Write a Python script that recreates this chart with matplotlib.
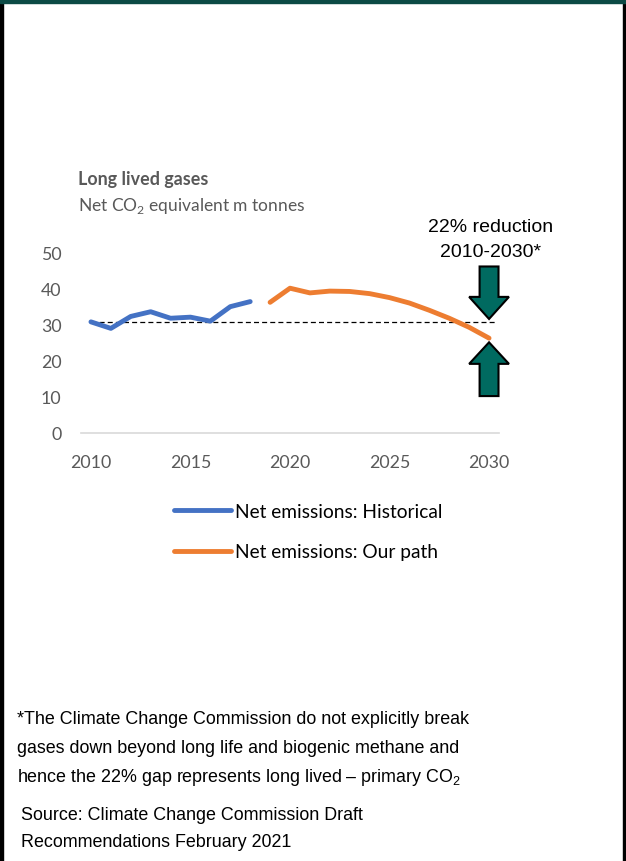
import matplotlib
matplotlib.use("Agg")
import matplotlib.pyplot as plt
from matplotlib.patches import Rectangle, FancyArrow

plt.rcParams['mathtext.fontset'] = 'custom'
plt.rcParams['mathtext.rm'] = 'Lato'
plt.rcParams['mathtext.sf'] = 'Liberation Sans'

# ---- data ----
hist_years = [2010, 2011, 2012, 2013, 2014, 2015, 2016, 2017, 2018]
hist_values = [30.7, 28.9, 32.2, 33.5, 31.7, 32.0, 30.9, 34.9, 36.3]
path_years = [2019, 2020, 2021, 2022, 2023, 2024, 2025, 2026, 2027, 2028, 2029, 2030]
path_values = [36.1, 40.0, 38.7, 39.2, 39.1, 38.5, 37.4, 35.9, 33.9, 31.7, 29.2, 26.2]
x_ticks = [2010, 2015, 2020, 2025, 2030]
y_ticks = [0, 10, 20, 30, 40, 50]
series_labels = ["Net emissions: Historical", "Net emissions: Our path"]

W, H = 626, 862
fig = plt.figure(figsize=(W / 100, H / 100), dpi=100)

def fx(x):
    return x / W

def fy(y):
    return 1 - y / H

GRAY = "#595959"
BLUE = "#4472C4"
ORANGE = "#ED7D31"
TEAL = "#006A60"

# frame
fig.patches.append(Rectangle((0, 0), fx(3), 1, transform=fig.transFigure, color="black", zorder=10))
fig.patches.append(Rectangle((fx(623), 0), fx(3), 1, transform=fig.transFigure, color="black", zorder=10))
fig.patches.append(Rectangle((0, fy(4)), 1, 4 / H, transform=fig.transFigure, color="#0B4A45", zorder=10))

ax_left, ax_right, ax_top, ax_bottom = 81, 499, 253, 434
ax = fig.add_axes([fx(ax_left), fy(ax_bottom), fx(ax_right - ax_left), (ax_bottom - ax_top) / H])
ax.set_xlim(2009.5, 2030.5)
ax.set_ylim(0, 50)

ax.plot(hist_years, hist_values, color=BLUE, lw=3.5, solid_capstyle="round", solid_joinstyle="round",
        label=series_labels[0], zorder=3)
ax.plot(path_years, path_values, color=ORANGE, lw=3.5, solid_capstyle="round", solid_joinstyle="round",
        label=series_labels[1], zorder=3)
ax.hlines(hist_values[0], hist_years[0], 2030.4, colors="black", linestyles=(0, (4, 2.5)), lw=0.9, zorder=2)

for s in ["top", "right", "left"]:
    ax.spines[s].set_visible(False)
ax.spines["bottom"].set_color("#D9D9D9")
ax.spines["bottom"].set_linewidth(1.2)
ax.set_xticks(x_ticks)
ax.set_yticks(y_ticks)
ax.tick_params(axis="both", length=0, labelsize=12.8, labelcolor=GRAY)
ax.tick_params(axis="x", pad=15)
ax.tick_params(axis="y", pad=14)
for lab in ax.get_xticklabels() + ax.get_yticklabels():
    lab.set_fontfamily("Lato")

# arrows
ax.add_patch(FancyArrow(2030, 46.0, 0, -(46.0 - 31.5), width=0.95, head_width=2.0, head_length=6.1,
                        length_includes_head=True, facecolor=TEAL, edgecolor="black", lw=1.5, clip_on=False, zorder=4))
ax.add_patch(FancyArrow(2030, 10.2, 0, 25.05 - 10.2, width=0.95, head_width=2.0, head_length=5.95,
                        length_includes_head=True, facecolor=TEAL, edgecolor="black", lw=1.5, clip_on=False, zorder=4))

# titles
fig.text(fx(78), fy(179), "Long lived gases", fontfamily="Lato", fontweight="bold", fontsize=12.9,
         color=GRAY, va="center", ha="left")
fig.text(fx(78), fy(206), r"Net CO$_\mathrm{2}$ equivalent m tonnes", fontfamily="Lato", fontsize=12.5,
         color=GRAY, va="center", ha="left")

fig.text(fx(491), fy(227), "22% reduction", fontfamily="Liberation Sans", fontsize=14,
         color="black", va="center", ha="center")
fig.text(fx(491), fy(253), "2010-2030*", fontfamily="Liberation Sans", fontsize=14,
         color="black", va="center", ha="center")

# legend
leg = ax.legend(loc="upper left", bbox_to_anchor=(fx(174), fy(504)), bbox_transform=fig.transFigure,
                frameon=False, prop={"family": "Lato", "size": 13.8}, handlelength=2.95, handletextpad=0.22,
                labelspacing=1.22, borderpad=0, borderaxespad=0)
for t in leg.get_texts():
    t.set_color("black")

# footnote
foot = ["*The Climate Change Commission do not explicitly break",
        "gases down beyond long life and biogenic methane and",
        r"hence the 22% gap represents long lived – primary CO$_\mathsf{2}$"]
for i, line in enumerate(foot):
    fig.text(fx(17), fy(720 + 29 * i), line, fontfamily="Liberation Sans", fontsize=12.9,
             color="black", va="center", ha="left")
source = ["Source: Climate Change Commission Draft", "Recommendations February 2021"]
for i, line in enumerate(source):
    fig.text(fx(21), fy(816 + 27 * i), line, fontfamily="Liberation Sans", fontsize=12.9,
             color="black", va="center", ha="left")

fig.savefig("out.png", dpi=100)
